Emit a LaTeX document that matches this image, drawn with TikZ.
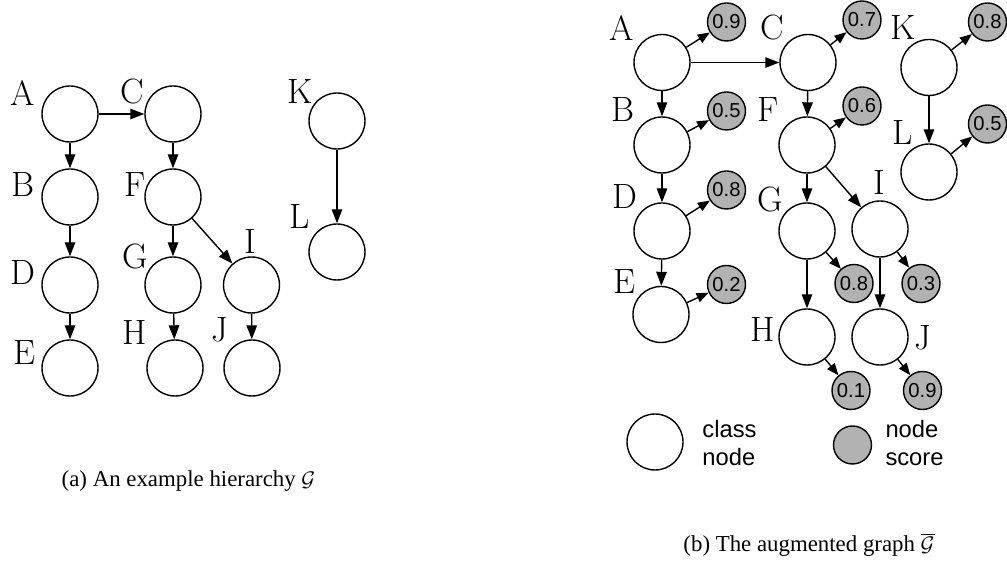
\documentclass[tikz,border=0pt]{standalone}
\usepackage{fontspec}
\usetikzlibrary{arrows.meta}
\newfontfamily\scorefont{Liberation Sans}
\newfontfamily\capfont{Liberation Serif}

\begin{document}
\begin{tikzpicture}[line width=0.8pt,
  cls/.style={circle, draw, minimum size=1.12cm, inner sep=0pt},
  score/.style={circle, draw, fill=black!30, minimum size=0.76cm, inner sep=0pt, font=\scorefont\fontsize{11.5}{13}\selectfont},
  lbl/.style={font=\fontsize{20}{24}\selectfont},
  arr/.style={-{Triangle[length=2.8mm,width=2.1mm]}},
  sarr/.style={-{Triangle[length=2.4mm,width=1.9mm]}}]
\useasboundingbox (0,0) rectangle (20.14,11.26);

% (a) hierarchy
\node[cls] (hA) at (1.40,8.98) {};
\node[cls] (hC) at (3.46,8.98) {};
\node[cls] (hK) at (6.74,8.84) {};
\node[cls] (hB) at (1.40,7.32) {};
\node[cls] (hF) at (3.46,7.32) {};
\node[cls] (hL) at (6.74,6.22) {};
\node[cls] (hD) at (1.40,5.56) {};
\node[cls] (hG) at (3.46,5.56) {};
\node[cls] (hI) at (5.03,5.56) {};
\node[cls] (hE) at (1.40,3.90) {};
\node[cls] (hH) at (3.50,3.90) {};
\node[cls] (hJ) at (5.04,3.90) {};
\node[lbl] (lhA) at (0.46,9.40) {A};
\node[lbl] (lhC) at (2.64,9.42) {C};
\node[lbl] (lhK) at (6.00,9.42) {K};
\node[lbl] (lhB) at (0.46,7.56) {B};
\node[lbl] (lhF) at (2.70,7.56) {F};
\node[lbl] (lhL) at (6.00,6.92) {L};
\node[lbl] (lhD) at (0.46,5.80) {D};
\node[lbl] (lhG) at (2.70,6.12) {G};
\node[lbl] (lhI) at (5.00,6.42) {I};
\node[lbl] (lhE) at (0.50,4.20) {E};
\node[lbl] (lhH) at (2.70,4.60) {H};
\node[lbl] (lhJ) at (4.40,4.66) {J};
\foreach \s/\t in {A/C, A/B, B/D, D/E, C/F, F/G, F/I, G/H, I/J, K/L}
  \draw[arr] (h\s) -- (h\t);
\node[font=\capfont\fontsize{13}{15}\selectfont] (capa) at (3.77,1.64) {(a) An example hierarchy $\mathcal{G}$};

% (b) augmented graph
\node[cls] (gA) at (13.24,10.01) {};
\node[cls] (gC) at (16.16,10.01) {};
\node[cls] (gK) at (18.58,9.91) {};
\node[cls] (gB) at (13.24,8.36) {};
\node[cls] (gF) at (16.14,8.36) {};
\node[cls] (gL) at (18.58,7.82) {};
\node[cls] (gD) at (13.24,6.64) {};
\node[cls] (gG) at (16.14,6.64) {};
\node[cls] (gI) at (17.60,6.68) {};
\node[cls] (gE) at (13.22,4.97) {};
\node[cls] (gH) at (16.14,4.52) {};
\node[cls] (gJ) at (17.60,4.52) {};
\node[lbl] (lgA) at (12.44,10.70) {A};
\node[lbl] (lgC) at (15.44,10.70) {C};
\node[lbl] (lgK) at (18.06,10.70) {K};
\node[lbl] (lgB) at (12.46,9.06) {B};
\node[lbl] (lgF) at (15.36,9.06) {F};
\node[lbl] (lgL) at (18.06,8.60) {L};
\node[lbl] (lgD) at (12.50,7.32) {D};
\node[lbl] (lgG) at (15.40,7.26) {G};
\node[lbl] (lgI) at (17.58,7.60) {I};
\node[lbl] (lgE) at (12.50,5.62) {E};
\node[lbl] (lgH) at (15.26,4.66) {H};
\node[lbl] (lgJ) at (18.46,4.50) {J};
\node[score] (sA) at (14.53,10.82) {0.9};
\node[score] (sC) at (17.24,10.86) {0.7};
\node[score] (sK) at (19.75,10.82) {0.8};
\node[score] (sB) at (14.53,9.04) {0.5};
\node[score] (sF) at (17.24,9.14) {0.6};
\node[score] (sL) at (19.75,8.78) {0.5};
\node[score] (sD) at (14.53,7.46) {0.8};
\node[score] (sE) at (14.53,5.57) {0.2};
\node[score] (sG) at (17.08,5.59) {0.8};
\node[score] (sI) at (18.42,5.59) {0.3};
\node[score] (sH) at (17.02,3.45) {0.1};
\node[score] (sJ) at (18.45,3.45) {0.9};
\foreach \s/\t in {A/C, A/B, B/D, D/E, C/F, F/G, F/I, G/H, I/J, K/L}
  \draw[arr] (g\s) -- (g\t);
\foreach \s in {A, B, C, D, E, F, G, H, I, J, K, L}
  \draw[sarr] (g\s) -- (s\s);

% legend
\node[cls] (keycls) at (13.10,2.42) {};
\node[font=\scorefont\fontsize{13.5}{15.5}\selectfont, align=left] (keyclstxt) at (14.59,2.40) {class\\node};
\node[score] (keyscore) at (17.05,2.36) {};
\node[font=\scorefont\fontsize{13.5}{15.5}\selectfont, align=left] (keyscoretxt) at (18.29,2.40) {node\\score};
\node[font=\capfont\fontsize{13}{15}\selectfont] (capb) at (16.18,0.36) {(b) The augmented graph $\overline{\mathcal{G}}$};
\end{tikzpicture}
\end{document}
